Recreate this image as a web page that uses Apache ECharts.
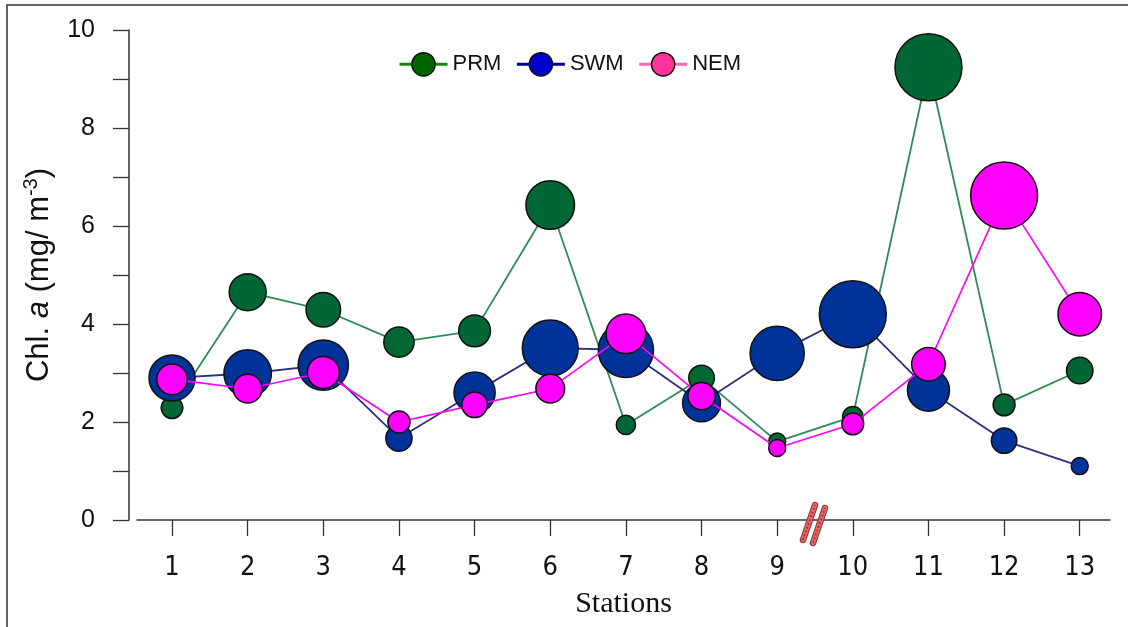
<!DOCTYPE html>
<html>
<head>
<meta charset="utf-8">
<script src="https://cdn.jsdelivr.net/npm/echarts@6/dist/echarts.min.js"></script>
<style>
  html, body { margin: 0; padding: 0; background: #fff; }
  #chart { width: 1128px; height: 627px; }
</style>
</head>
<body>
<div id="chart"></div>
<script>
// Chlorophyll a at 13 stations for three monsoon seasons
const stations = [1, 2, 3, 4, 5, 6, 7, 8, 9, 10, 11, 12, 13];
const prm = [2.29, 4.65, 4.29, 3.63, 3.86, 6.43, 1.94, 2.90, 1.60, 2.11, 9.24, 2.35, 3.05];
const swm = [2.90, 2.99, 3.16, 1.67, 2.60, 3.51, 3.47, 2.39, 3.40, 4.20, 2.65, 1.62, 1.10];
const nem = [2.87, 2.68, 3.01, 2.00, 2.35, 2.68, 3.80, 2.53, 1.47, 1.96, 3.18, 6.62, 4.20];
const yTicks = [0, 2, 4, 6, 8, 10];
// position of the axis break between stations 9 and 10
const breakAt = 9.5;

const pairs = vals => stations.map((s, i) => [s, vals[i]]);

// bubble diameter grows linearly within each season's own range
function sizeScale(vals) {
  const lo = Math.min(...vals), hi = Math.max(...vals);
  return v => 17 + 50 * (v[1] - lo) / (hi - lo);
}

function lineSeries(name, vals, fill, stroke, width, z) {
  return {
    name, type: 'line', data: pairs(vals), z,
    symbol: 'circle',
    symbolSize: sizeScale(vals),
    lineStyle: { color: stroke, width },
    itemStyle: { color: fill, borderColor: '#111', borderWidth: 1.5 },
    emphasis: { disabled: true }
  };
}

const sans = 'Liberation Sans, Arial, sans-serif';

const chart = echarts.init(document.getElementById('chart'));
chart.setOption({
  animation: false,
  backgroundColor: '#fff',
  grid: { left: 137, right: 18, top: 30, bottom: 107 },
  legend: {
    left: 393, top: 47, padding: 5, itemWidth: 48, itemHeight: 29, itemGap: 14,
    textStyle: { fontFamily: sans, fontSize: 22, color: '#111' },
    data: [
      { name: 'PRM', itemStyle: { color: '#006400', borderColor: '#111', borderWidth: 1.5 }, lineStyle: { color: '#118811', width: 3 } },
      { name: 'SWM', itemStyle: { color: '#0000cc', borderColor: '#111', borderWidth: 1.5 }, lineStyle: { color: '#000099', width: 3 } },
      { name: 'NEM', itemStyle: { color: '#ff3399', borderColor: '#111', borderWidth: 1.5 }, lineStyle: { color: '#ff66b3', width: 3 } }
    ]
  },
  xAxis: {
    type: 'value', min: 0.537, max: 13.4,
    name: 'Stations', nameLocation: 'middle', nameGap: 69,
    nameTextStyle: { fontFamily: 'Liberation Serif, Times New Roman, serif', fontSize: 30, color: '#111' },
    axisLine: { show: true, onZero: false, lineStyle: { color: '#333', width: 1.5 } },
    axisTick: { show: true, length: 16, customValues: stations, lineStyle: { color: '#333', width: 1.3 } },
    axisLabel: {
      customValues: stations, margin: 34,
      fontFamily: 'Liberation Sans Narrow, DejaVu Sans Condensed, sans-serif', fontSize: 27, color: '#111'
    },
    splitLine: { show: false }
  },
  yAxis: {
    type: 'value', min: 0, max: 10, interval: 1, offset: 8,
    name: '{n|Chl. }{i|a}{n| (mg/ m}{s|-3}{n|)}',
    nameLocation: 'middle', nameGap: 72, nameRotate: 90,
    nameTextStyle: {
      rich: {
        n: { fontFamily: sans, fontSize: 31, color: '#111', lineHeight: 36 },
        i: { fontFamily: sans, fontSize: 31, fontStyle: 'italic', color: '#111', lineHeight: 36 },
        s: { fontFamily: sans, fontSize: 20, color: '#111', lineHeight: 36, verticalAlign: 'top', padding: [0, 0, 13, 0] }
      }
    },
    axisLine: { show: true, lineStyle: { color: '#333', width: 1.5 } },
    axisTick: { show: true, length: 16, lineStyle: { color: '#333', width: 1.3 } },
    axisLabel: {
      margin: 34, fontFamily: sans, fontSize: 25, color: '#111',
      formatter: v => (yTicks.indexOf(v) >= 0 ? String(v) : '')
    },
    splitLine: { show: false }
  },
  graphic: [{
    type: 'polyline', silent: true, z: 100,
    shape: { points: [[7, 627], [7, 5], [1128, 5]] },
    style: { stroke: '#333', lineWidth: 1.5, fill: null }
  }],
  series: [
    lineSeries('PRM', prm, '#006633', '#2e8b57', 1.8, 2),
    lineSeries('SWM', swm, '#003399', '#2f2f80', 1.8, 3),
    lineSeries('NEM', nem, '#ff00ff', '#ff00ff', 1.6, 4),
    {
      // double slash marking the break on the station axis
      name: 'break', type: 'custom', z: 10, silent: true, clip: false,
      data: [[breakAt, 0]],
      renderItem: (params, api) => {
        const p = api.coord([api.value(0), api.value(1)]);
        const segs = [[-12, 20, 0, -15], [-2, 23, 10, -12]];
        const children = [];
        segs.forEach(s => {
          const shape = { x1: p[0] + s[0], y1: p[1] + s[1], x2: p[0] + s[2], y2: p[1] + s[3] };
          children.push({ type: 'line', shape, style: { stroke: '#7a3a3a', lineWidth: 6.5, lineCap: 'round' } });
          children.push({ type: 'line', shape, style: { stroke: '#ec6464', lineWidth: 4.5, lineCap: 'round' } });
          children.push({ type: 'line', shape, style: { stroke: '#a83232', lineWidth: 1.8, lineDash: [2, 2] } });
        });
        return { type: 'group', children };
      }
    }
  ]
});
</script>
</body>
</html>
